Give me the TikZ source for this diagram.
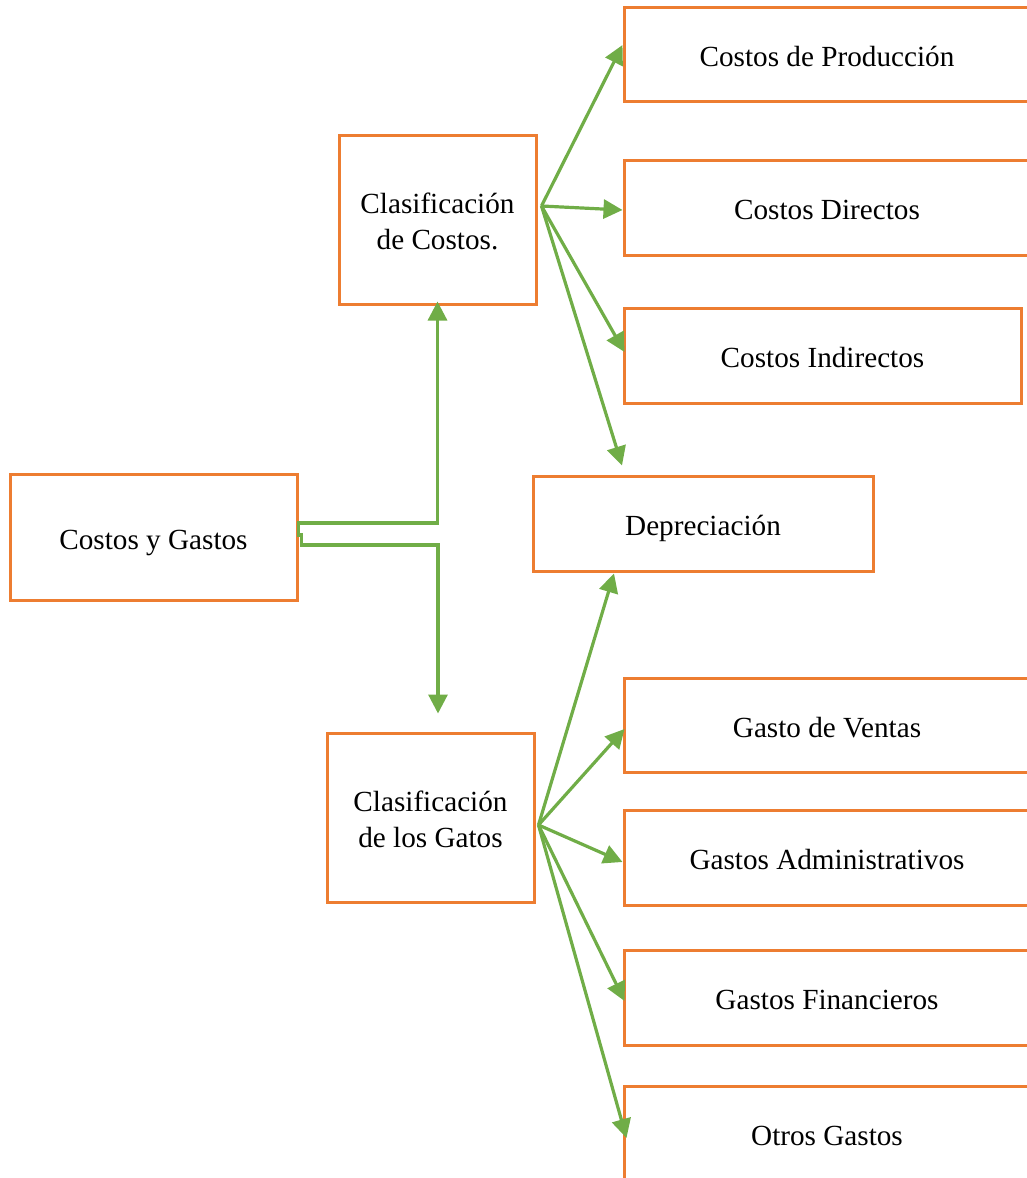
\documentclass[tikz,border=0pt]{standalone}
\usepackage{fontspec}
\setmainfont{Liberation Serif}
\usetikzlibrary{arrows.meta}
\definecolor{boxorange}{HTML}{ED7D31}
\definecolor{arrowgreen}{HTML}{70AD47}
% box label: centred lines, set a little below the geometric centre
\newcommand\boxtext[1]{\raisebox{-2.5pt}[\height][\depth]{\begin{tabular}{@{}c@{}}#1\end{tabular}}}
\begin{document}
\begin{tikzpicture}[x=0.5pt,y=-0.5pt,
  box/.style={draw=boxorange,line width=1.5pt,fill=white,
    inner sep=0pt,font=\fontsize{14.6}{18}\selectfont},
  arr/.style={draw=arrowgreen,line width=1.6pt,
    -{Triangle[length=9.5pt,width=9.5pt]}}]
\useasboundingbox (0,0) rectangle (1027,1178);
\clip (0,0) rectangle (1027,1178);

% boxes (sizes in picture units of half a point)
\node[box,minimum width=203pt,minimum height=47pt]   (prod)     at (827,54)     {\boxtext{Costos de Producción}};
\node[box,minimum width=203pt,minimum height=47.5pt] (direct)   at (827,207.5)  {\boxtext{Costos Directos}};
\node[box,minimum width=198.5pt,minimum height=47.5pt] (indirect) at (822.5,355.5) {\boxtext{Costos Indirectos}};
\node[box,minimum width=170pt,minimum height=47.5pt] (deprec)   at (703,523.5)  {\boxtext{Depreciación}};
\node[box,minimum width=98.5pt,minimum height=84.5pt] (clascost) at (437.5,219.5) {\boxtext{Clasificación\\de Costos.}};
\node[box,minimum width=143.5pt,minimum height=63pt] (cyg)      at (153.5,537)  {\boxtext{Costos y Gastos}};
\node[box,minimum width=103.5pt,minimum height=84.5pt] (clasgast) at (430.5,817.5) {\boxtext{Clasificación\\de los Gatos}};
\node[box,minimum width=203pt,minimum height=47pt]   (ventas)   at (827,725)    {\boxtext{Gasto de Ventas}};
\node[box,minimum width=203pt,minimum height=47.5pt] (admin)    at (827,857.5)  {\boxtext{Gastos Administrativos}};
\node[box,minimum width=203pt,minimum height=47.5pt] (finan)    at (827,997.5)  {\boxtext{Gastos Financieros}};
\node[box,minimum width=203pt,minimum height=47.5pt] (otros)    at (827,1133.5) {\boxtext{Otros Gastos}};

% elbow connectors from the main box
\draw[arr] (cyg.east) -- ++(0,-14) -| ([yshift=2pt]clascost.south);
\draw[arr] ([xshift=1.5pt,yshift=2pt]cyg.east) -- ++(0,12) -| ([xshift=3.75pt,yshift=9pt]clasgast.north);

% fan of cost arrows
\coordinate (cc) at ([xshift=2pt,yshift=6.75pt]clascost.east);
\draw[arr] (cc) -- ([yshift=4.5pt]prod.west);
\draw[arr] (cc) -- ([yshift=-1.25pt]direct.west);
\draw[arr] (cc) -- ([xshift=1pt,yshift=1.75pt]indirect.west);
\draw[arr] (cc) -- ([xshift=-40.5pt,yshift=4.5pt]deprec.north);

% fan of expense arrows
\coordinate (gc) at ([xshift=1.5pt,yshift=-3.75pt]clasgast.east);
\draw[arr] (gc) -- ([xshift=-44.5pt,yshift=-0.5pt]deprec.south);
\draw[arr] (gc) -- ([xshift=1pt,yshift=-2pt]ventas.west);
\draw[arr] (gc) -- ([yshift=-2.25pt]admin.west);
\draw[arr] (gc) -- ([xshift=1pt,yshift=-1.75pt]finan.west);
\draw[arr] (gc) -- ([xshift=2pt,yshift=-2.25pt]otros.west);
\end{tikzpicture}
\end{document}
